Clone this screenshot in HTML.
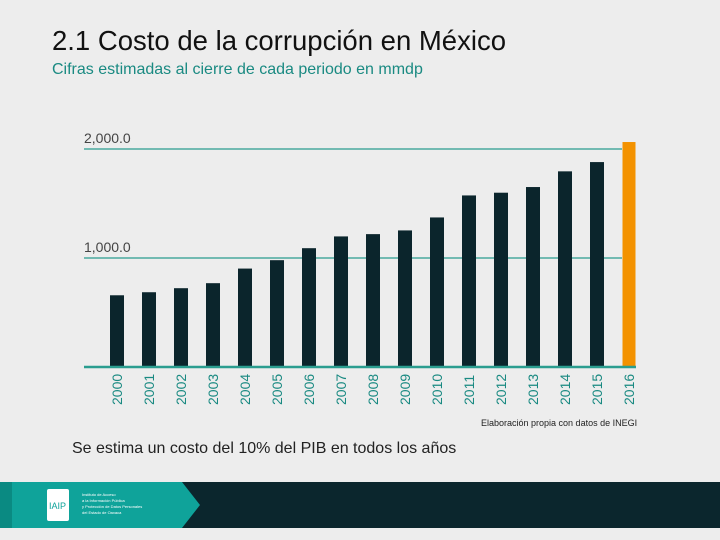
<!DOCTYPE html>
<html><head><meta charset="utf-8"><style>
body{margin:0;width:720px;height:540px;background:#ededed;font-family:"Liberation Sans",sans-serif;overflow:hidden;position:relative}
.t{position:absolute;white-space:nowrap}
</style></head><body>
<div class="t" style="left:52px;top:25px;font-size:27.5px;color:#111"><span style="font-weight:300">2.1</span> Costo de la corrupción en México</div>
<div class="t" style="left:52px;top:61px;font-size:16px;color:#1a8a82">Cifras estimadas al cierre de cada periodo en mmdp</div>
<svg id="chart" width="720" height="540" style="position:absolute;left:0;top:0"></svg>
<div class="t" style="left:481px;top:418px;font-size:9px;color:#222">Elaboración propia con datos de INEGI</div>
<div class="t" style="left:72px;top:440px;font-size:16px;color:#222">Se estima un costo del 10% del PIB en todos los años</div>
<svg width="720" height="48" style="position:absolute;left:0;top:482px">
<rect x="0" y="0" width="720" height="46" fill="#0b262d"/>
<polygon points="0,0 182,0 200,23 182,46 0,46" fill="#0fa39a"/>
<rect x="0" y="0" width="12" height="46" fill="#0a8a82"/>
<rect x="47" y="7" width="22" height="32" rx="2" fill="#fff"/>
<text x="49" y="27" font-size="9" fill="#0fa39a" font-family="Liberation Sans">IAIP</text>
<text x="82" y="14" font-size="4" fill="#fff">Instituto de Acceso</text>
<text x="82" y="20" font-size="4" fill="#fff">a la Información Pública</text>
<text x="82" y="26" font-size="4" fill="#fff">y Protección de Datos Personales</text>
<text x="82" y="32" font-size="4" fill="#fff">del Estado de Oaxaca</text>
</svg>
<script>
const years=["2000","2001","2002","2003","2004","2005","2006","2007","2008","2009","2010","2011","2012","2013","2014","2015","2016"];
const values=[658,686,723,769,903,980,1090,1198,1219,1253,1372,1574,1599,1651,1795,1880,2064];
const ticks=[1000,2000];
const tickLabels=["1,000.0","2,000.0"];
const NS="http://www.w3.org/2000/svg";
const svg=document.getElementById('chart');
const base=367, per=109/1000;
const y=v=>base-v*per;
const x=i=>117+i*32;
function mk(t,a){const e=document.createElementNS(NS,t);for(const k in a)e.setAttribute(k,a[k]);svg.appendChild(e);return e;}
ticks.forEach((t,i)=>{
 const l=mk('line',{x1:84,x2:622,y1:y(t),y2:y(t),stroke:'#2a9d8f','stroke-width':1.3});
 
 
 const tx=mk('text',{x:84,y:y(t)-6,'font-size':14,fill:'#444','font-family':'Liberation Sans'});
 tx.textContent=tickLabels[i];
 
 
});
values.forEach((v,i)=>{
 const last=i===values.length-1;
 const w=last?13:14;
 const r=mk('rect',{x:x(i)-w/2,y:y(v),width:w,height:base-y(v),fill:last?'#f39200':'#0b252c'});
 
 
 const tx=mk('text',{transform:`translate(${x(i)+5},405) rotate(-90)`,'font-size':14,fill:'#1a8a82','font-family':'Liberation Sans'});
 tx.textContent=years[i];
 
 
});
const b=mk('line',{x1:84,x2:636,y1:base,y2:base,stroke:'#2a9d8f','stroke-width':2.5});


</script>
</body></html>
